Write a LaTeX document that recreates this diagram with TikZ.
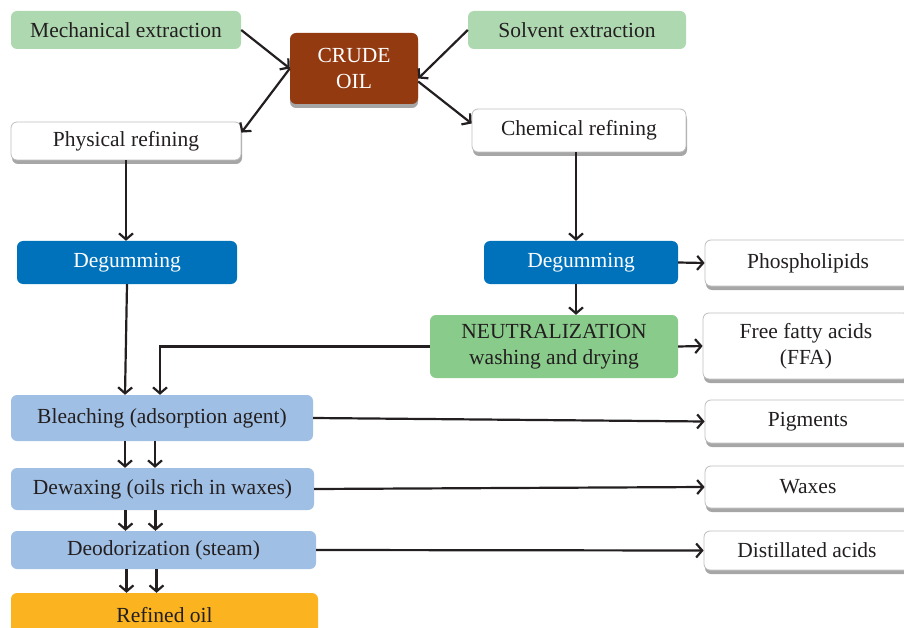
\documentclass[tikz,border=0pt]{standalone}
\usepackage{fontspec}
\setmainfont{Liberation Serif}
\usetikzlibrary{arrows.meta,shadows}

\definecolor{srcgreen}{RGB}{174,217,176}
\definecolor{crudebrown}{RGB}{147,58,17}
\definecolor{degblue}{RGB}{0,114,188}
\definecolor{neutgreen}{RGB}{137,203,139}
\definecolor{steplight}{RGB}{160,191,228}
\definecolor{oilorange}{RGB}{251,179,31}
\definecolor{inkdark}{RGB}{35,31,32}
\definecolor{rimgray}{RGB}{190,190,190}

\begin{document}
\begin{tikzpicture}[x=1pt, y=-1pt,
 every node/.style = {shape=rectangle, rounded corners=6pt, align=center,
 text=inkdark, inner sep=2pt, font=\fontsize{21.5}{26}\selectfont},
 source/.style = {fill=srcgreen},
 crude/.style = {fill=crudebrown, text=white,
 drop shadow={shadow xshift=0pt, shadow yshift=-4pt, fill=black!35, opacity=1}},
 product/.style = {draw=rimgray, line width=0.8pt, fill=white,
 drop shadow={shadow xshift=1pt, shadow yshift=-4pt, fill=black!35, opacity=1}},
 degum/.style = {fill=degblue, text=white},
 stepbox/.style = {fill=steplight},
 flow/.style = {draw=inkdark, line width=2.2pt,
 -{Straight Barb[length=6pt, width=14pt]}}]
 \clip (0,0) rectangle (904,628);

 % sources and crude oil
 \node (mech) [source, minimum width=230, minimum height=38] at (126,30) {Mechanical extraction};
 \node (solv) [source, minimum width=218, minimum height=38] at (577,30) {Solvent extraction};
 \node (crude) [crude, minimum width=128, minimum height=71] at (354,68.5) {CRUDE\\OIL};

 % two refining routes
 \node (phys) [product, minimum width=230, minimum height=38] at (126,141) {Physical refining};
 \node (chem) [product, minimum width=214, minimum height=43] at (579,130.5) {Chemical refining};
 \node (degL) [degum, minimum width=220, minimum height=43] at (127,262.5) {Degumming};
 \node (degR) [degum, minimum width=194, minimum height=43] at (581,262.5) {Degumming};
 \node (neut) [fill=neutgreen, minimum width=248, minimum height=63] at (554,346.5) {NEUTRALIZATION\\washing and drying};

 % common steps
 \node (bleach) [stepbox, minimum width=302, minimum height=46] at (162,418) {Bleaching (adsorption agent)};
 \node (dewax) [stepbox, minimum width=303, minimum height=42] at (162.5,489) {Dewaxing (oils rich in waxes)};
 \node (deodor) [stepbox, minimum width=305, minimum height=38] at (163.5,550) {Deodorization (steam)};
 \node (refined) [fill=oilorange, minimum width=307, minimum height=44] at (164.5,615) {Refined oil};

 % by-products
 \node (phos) [product, minimum width=206, minimum height=46] at (808,263) {Phospholipids};
 \node (ffa) [product, minimum width=206, minimum height=66] at (806,346) {Free fatty acids\\(FFA)};
 \node (pigm) [product, minimum width=206, minimum height=43] at (808,421.5) {Pigments};
 \node (waxes) [product, minimum width=206, minimum height=42] at (808,487) {Waxes};
 \node (distil) [product, minimum width=206, minimum height=39] at (807,550.5) {Distillated acids};

 \draw [flow] (mech.east) -- (crude.west);
 \draw [flow] (crude.west) -- ([yshift=-11pt]phys.north east);
 \draw [flow] (solv.west) -- ([yshift=-10pt]crude.east);
 \draw [flow] ([yshift=-13pt]crude.east) -- ([yshift=7pt]chem.west);
 \draw [flow] (phys.south) -- (phys.south |- degL.north);
 \draw [flow] ([xshift=-3pt]chem.south) -- ([xshift=-3pt]chem.south |- degR.north);
 \draw [flow] (degR.east) -- (phos.west);
 \draw [flow] ([xshift=-5pt]degR.south) -- ([xshift=-5pt]degR.south |- neut.north);
 \draw [flow] (neut.east) -- (ffa.west);
 \draw [flow] (neut.west) -| ([xshift=-2pt]bleach.north);
 \draw [flow] (degL.south) -- ([xshift=-37pt]bleach.north);
 \foreach \a/\b in {bleach/dewax, dewax/deodor, deodor/refined}
 \foreach \dx in {-37,-7}
 \draw [flow] ([xshift=\dx pt]\a.south) -- ([xshift=\dx pt]\a.south |- \b.north);
 \draw [flow] (bleach.east) -- (pigm.west);
 \draw [flow] (dewax.east) -- (waxes.west);
 \draw [flow] (deodor.east) -- (distil.west);
\end{tikzpicture}
\end{document}
